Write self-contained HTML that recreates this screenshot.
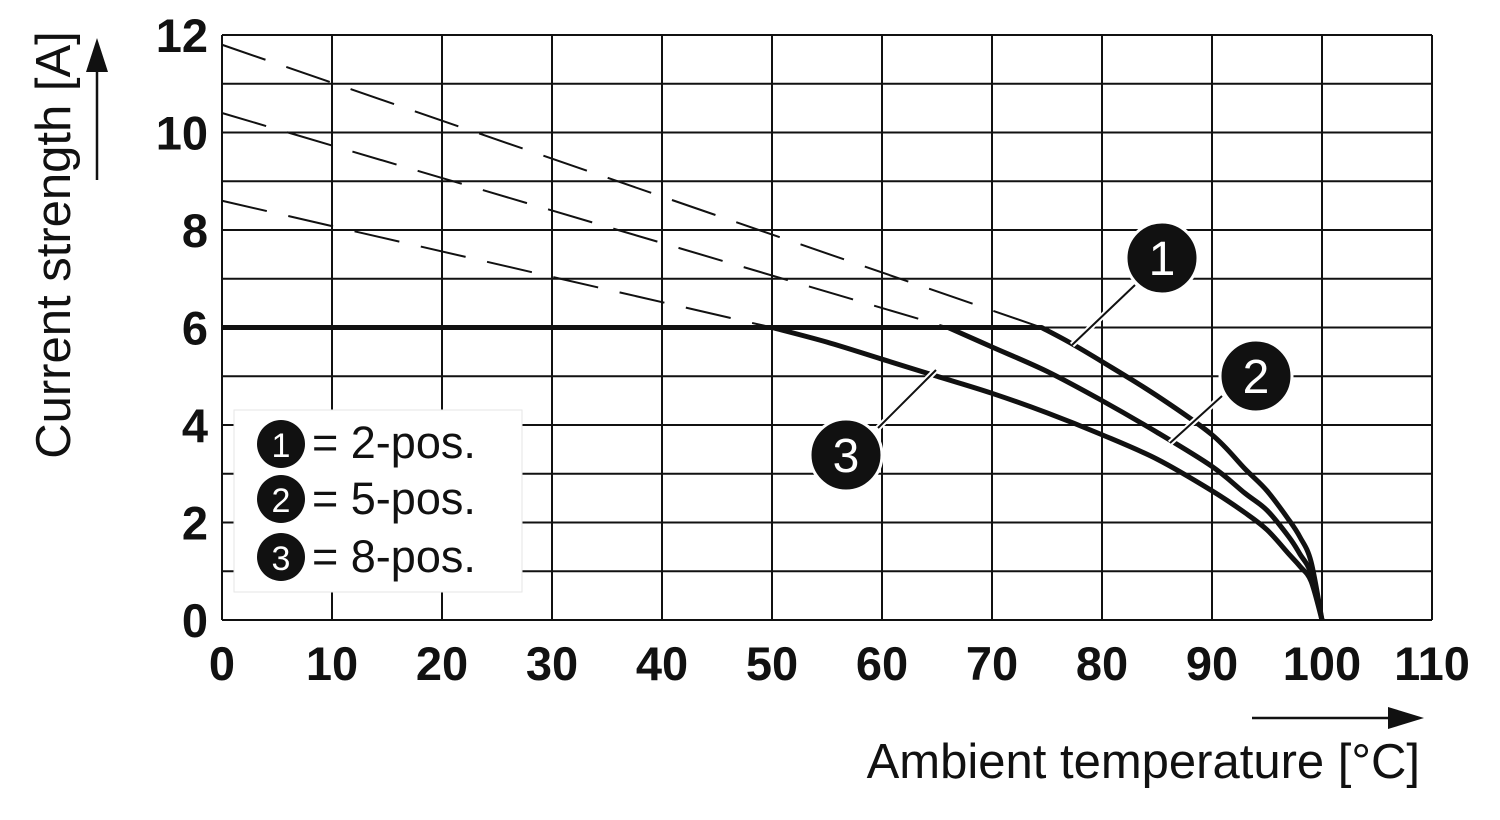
<!DOCTYPE html>
<html><head><meta charset="utf-8"><style>
html,body{margin:0;padding:0;background:#fff;}
svg{display:block;font-family:"Liberation Sans",Arial,sans-serif;}
</style></head><body>
<svg id="chart" width="1500" height="820" viewBox="0 0 1500 820" xmlns="http://www.w3.org/2000/svg">
<g id="grid"></g>
<g id="dashes"></g>
<g id="curves"></g>
<g id="ticks"></g>
<g>
 <line x1="1135" y1="285" x2="1072" y2="345" stroke="#fff" stroke-width="6"/>
 <line x1="1135" y1="285" x2="1072" y2="345" stroke="#111" stroke-width="2"/>
 <line x1="1222" y1="396" x2="1170" y2="443" stroke="#fff" stroke-width="6"/>
 <line x1="1222" y1="396" x2="1170" y2="443" stroke="#111" stroke-width="2"/>
 <line x1="878" y1="428" x2="936" y2="370" stroke="#fff" stroke-width="6"/>
 <line x1="878" y1="428" x2="936" y2="370" stroke="#111" stroke-width="2"/>
 <g><circle cx="1162" cy="258" r="36" fill="#111" stroke="#fff" stroke-width="3"/><text x="1162" y="275" font-size="48" fill="#fff" text-anchor="middle">1</text></g>
 <g><circle cx="1256" cy="376" r="36" fill="#111" stroke="#fff" stroke-width="3"/><text x="1256" y="393" font-size="48" fill="#fff" text-anchor="middle">2</text></g>
 <g><circle cx="846" cy="455" r="36" fill="#111" stroke="#fff" stroke-width="3"/><text x="846" y="472" font-size="48" fill="#fff" text-anchor="middle">3</text></g>
</g>
<g>
 <rect x="234" y="410" width="288" height="182" fill="#fff" stroke="#e6e6e6" stroke-width="1"/>
 <g><circle cx="281" cy="444" r="24" fill="#111"/><text x="281" y="457" font-size="34" fill="#fff" text-anchor="middle">1</text><text x="312" y="458" font-size="45" fill="#111">= 2-pos.</text></g>
 <g><circle cx="281" cy="499" r="24" fill="#111"/><text x="281" y="512" font-size="34" fill="#fff" text-anchor="middle">2</text><text x="312" y="514" font-size="45" fill="#111">= 5-pos.</text></g>
 <g><circle cx="281" cy="557" r="24" fill="#111"/><text x="281" y="570" font-size="34" fill="#fff" text-anchor="middle">3</text><text x="312" y="572" font-size="45" fill="#111">= 8-pos.</text></g>
</g>
<g>
 <text transform="translate(70,245) rotate(-90)" font-size="49" fill="#111" text-anchor="middle">Current strength [A]</text>
 <line x1="97" y1="180" x2="97" y2="70" stroke="#111" stroke-width="2.5"/>
 <polygon points="97,38 86,72 108,72" fill="#111"/>
</g>
<g>
 <text x="1420" y="778" font-size="49" fill="#111" text-anchor="end">Ambient temperature [°C]</text>
 <line x1="1252" y1="718" x2="1390" y2="718" stroke="#111" stroke-width="2.5"/>
 <polygon points="1424,718 1388,707 1388,729" fill="#111"/>
</g>
</svg>
<script>
const xTicks=[0,10,20,30,40,50,60,70,80,90,100,110];
const yTicks=[0,2,4,6,8,10,12];
const dashStart=[11.8,10.4,8.6];
const dashEndT=[74.5,66,50];
const curveT1=[0,74.5,77,80,85,90,93,95,97,98,99,100];
const curveI1=[6,6,5.7,5.3,4.6,3.8,3.1,2.65,2.05,1.7,1.2,0];
const curveT2=[0,66,70,75,80,85,90,93,95,97,98,99,100];
const curveI2=[6,6,5.6,5.1,4.5,3.85,3.15,2.6,2.25,1.7,1.35,0.95,0];
const curveT3=[0,50,55,60,65,70,75,80,85,90,93,95,97,98,99,100];
const curveI3=[6,6,5.7,5.35,5.0,4.65,4.25,3.8,3.3,2.65,2.2,1.85,1.35,1.1,0.8,0];
const X0=222,XS=11.0,Y0=620,YS=48.75;
const sx=v=>X0+v*XS, sy=v=>Y0-v*YS;
const NS="http://www.w3.org/2000/svg";
function mk(p,t,a){const e=document.createElementNS(NS,t);for(const k in a)e.setAttribute(k,a[k]);p.appendChild(e);return e;}
const grid=document.getElementById('grid');
for(let i=0;i<=12;i++){const l=mk(grid,'line',{x1:sx(0),x2:sx(110),y1:sy(i),y2:sy(i),stroke:'#111','stroke-width':2});

}
xTicks.forEach(t=>{const l=mk(grid,'line',{x1:sx(t),x2:sx(t),y1:sy(0),y2:sy(12),stroke:'#111','stroke-width':2});

});
const tk=document.getElementById('ticks');
xTicks.forEach(t=>{const e=mk(tk,'text',{x:sx(t),y:680,'font-size':47,'font-weight':'bold','text-anchor':'middle',fill:'#111'});e.textContent=t;

});
yTicks.forEach(t=>{const e=mk(tk,'text',{x:208,y:sy(t)+17,'font-size':47,'font-weight':'bold','text-anchor':'end',fill:'#111'});e.textContent=t;

});
const dg=document.getElementById('dashes');
dashStart.forEach((v,i)=>{const l=mk(dg,'line',{x1:sx(0),y1:sy(v),x2:sx(dashEndT[i]),y2:sy(6),stroke:'#111','stroke-width':2,'stroke-dasharray':'46 22'});

});
const cg=document.getElementById('curves');
function curve(T,I,name){let d='M'+sx(T[0])+','+sy(I[0])+' L'+sx(T[1])+','+sy(I[1]);
const pts=T.slice(1).map((t,i)=>[sx(t),sy(I[i+1])]);
for(let i=0;i<pts.length-1;i++){const p0=pts[Math.max(0,i-1)],p1=pts[i],p2=pts[i+1],p3=pts[Math.min(pts.length-1,i+2)];
const c1=[p1[0]+(p2[0]-p0[0])/6,p1[1]+(p2[1]-p0[1])/6],c2=[p2[0]-(p3[0]-p1[0])/6,p2[1]-(p3[1]-p1[1])/6];
d+=' C'+c1+' '+c2+' '+p2;}
const p=mk(cg,'path',{d:d,fill:'none',stroke:'#111','stroke-width':5,'stroke-linejoin':'round'});

}
curve(curveT1,curveI1,'curve-2-pos');
curve(curveT2,curveI2,'curve-5-pos');
curve(curveT3,curveI3,'curve-8-pos');
</script>
</body></html>
